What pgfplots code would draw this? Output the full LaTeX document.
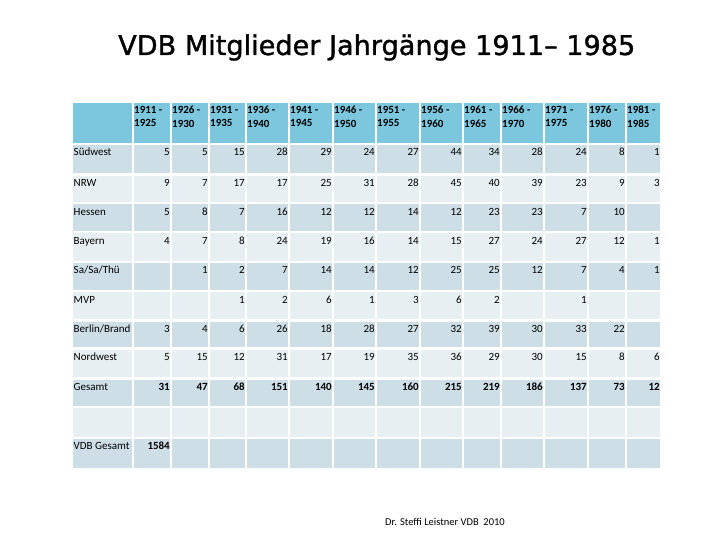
\documentclass[border=0pt]{standalone}
\usepackage{fontspec}
\setmainfont{Carlito}
\newfontfamily\titlefont[FakeBold=1.2]{DejaVu Sans}
\usepackage{graphicx}
\usepackage{pgfplots}
\pgfplotsset{compat=1.18}
\usepackage{pgfplotstable}
\definecolor{hdr}{RGB}{124,199,222}
\definecolor{dark}{RGB}{206,222,231}
\definecolor{light}{RGB}{232,239,243}

% x = right edge of the column (px), v = value; empty cells are left out
% columns: 170=1911-25 208=1926-30 245=1931-35 288=1936-40 332=1941-45 375=1946-50
%          419=1951-55 462=1956-60 500=1961-65 543=1966-70 587=1971-75 625=1976-80 660=1981-85
\pgfplotstableread{
x   v
170 5
208 5
245 15
288 28
332 29
375 24
419 27
462 44
500 34
543 28
587 24
625 8
660 1
}\rowSW
\pgfplotstableread{
x   v
170 9
208 7
245 17
288 17
332 25
375 31
419 28
462 45
500 40
543 39
587 23
625 9
660 3
}\rowNRW
\pgfplotstableread{
x   v
170 5
208 8
245 7
288 16
332 12
375 12
419 14
462 12
500 23
543 23
587 7
625 10
}\rowHES
\pgfplotstableread{
x   v
170 4
208 7
245 8
288 24
332 19
375 16
419 14
462 15
500 27
543 24
587 27
625 12
660 1
}\rowBAY
\pgfplotstableread{
x   v
208 1
245 2
288 7
332 14
375 14
419 12
462 25
500 25
543 12
587 7
625 4
660 1
}\rowSST
\pgfplotstableread{
x   v
245 1
288 2
332 6
375 1
419 3
462 6
500 2
587 1
}\rowMVP
\pgfplotstableread{
x   v
170 3
208 4
245 6
288 26
332 18
375 28
419 27
462 32
500 39
543 30
587 33
625 22
}\rowBER
\pgfplotstableread{
x   v
170 5
208 15
245 12
288 31
332 17
375 19
419 35
462 36
500 29
543 30
587 15
625 8
660 6
}\rowNW
\pgfplotstableread{
x   v
170 31
208 47
245 68
288 151
332 140
375 145
419 160
462 215
500 219
543 186
587 137
625 73
660 12
}\rowGES
\pgfplotstableread{
x   v
170 1584
}\rowVDB

\pgfplotsset{
  cellnums/.style={draw=none, mark=none, nodes near coords,
    point meta=explicit symbolic,
    every node near coord/.append style={anchor=base east, inner sep=0pt,
      font=\fontsize{11bp}{13bp}\selectfont, text=black}},
  boldnums/.style={every node near coord/.append style={font=\fontsize{11bp}{13bp}\selectfont\bfseries}}
}

\begin{document}
\begin{tikzpicture}
\begin{axis}[
  x=1bp, y=1bp,
  xmin=0, xmax=720, ymin=-540, ymax=0,
  axis on top,
  axis line style={draw=none},
  tick style={draw=none},
  clip=false,
  xtick={134,172,210,247,290,334,377,421,464,502,545,589,627},
  xticklabels={{1911 -\\1925},{1926 -\\1930},{1931 -\\1935},{1936 -\\1940},{1941 -\\1945},{1946 -\\1950},{1951 -\\1955},{1956 -\\1960},{1961 -\\1965},{1966 -\\1970},{1971 -\\1975},{1976 -\\1980},{1981 -\\1985}},
  xticklabel pos=upper,
  xticklabel style={anchor=north west, align=left, inner sep=0pt, yshift=-106bp,
    font=\fontsize{11bp}{13.4bp}\selectfont\bfseries},
  ytick={-155.8,-186.5,-215.1,-244.1,-273.8,-303.1,-332.8,-360.8,-390.8,-449.8},
  yticklabels={Südwest,NRW,Hessen,Bayern,Sa/Sa/Thü,MVP,Berlin/Brand,Nordwest,Gesamt,VDB Gesamt},
  yticklabel style={anchor=base west, inner sep=0pt, xshift=73.5bp,
    font=\fontsize{11bp}{13bp}\selectfont},
]
\path (axis cs:0,0) rectangle (axis cs:720,-540);
% table body
\fill[hdr]   (axis cs:73,-103)   rectangle (axis cs:660,-143);
\fill[dark]  (axis cs:73,-145)   rectangle (axis cs:660,-173.3);
\fill[light] (axis cs:73,-175.7) rectangle (axis cs:660,-201.7);
\fill[dark]  (axis cs:73,-204.3) rectangle (axis cs:660,-231);
\fill[light] (axis cs:73,-233.3) rectangle (axis cs:660,-260.7);
\fill[dark]  (axis cs:73,-263)   rectangle (axis cs:660,-290);
\fill[light] (axis cs:73,-292.3) rectangle (axis cs:660,-319);
\fill[dark]  (axis cs:73,-322)   rectangle (axis cs:660,-347.5);
\fill[light] (axis cs:73,-350)   rectangle (axis cs:660,-377.3);
\fill[dark]  (axis cs:73,-380)   rectangle (axis cs:660,-406);
\fill[light] (axis cs:73,-408.3) rectangle (axis cs:660,-437);
\fill[dark]  (axis cs:73,-439)   rectangle (axis cs:660,-468.3);
\draw[white, line width=2bp]
  (axis cs:133,-102) -- (axis cs:133,-469)
  (axis cs:171,-102) -- (axis cs:171,-469)
  (axis cs:209,-102) -- (axis cs:209,-469)
  (axis cs:246,-102) -- (axis cs:246,-469)
  (axis cs:289,-102) -- (axis cs:289,-469)
  (axis cs:333,-102) -- (axis cs:333,-469)
  (axis cs:376,-102) -- (axis cs:376,-469)
  (axis cs:420,-102) -- (axis cs:420,-469)
  (axis cs:463,-102) -- (axis cs:463,-469)
  (axis cs:501,-102) -- (axis cs:501,-469)
  (axis cs:544,-102) -- (axis cs:544,-469)
  (axis cs:588,-102) -- (axis cs:588,-469)
  (axis cs:626,-102) -- (axis cs:626,-469);

\addplot[cellnums] table[x=x, y expr={-155.8}, meta=v] {\rowSW};
\addplot[cellnums] table[x=x, y expr={-186.5}, meta=v] {\rowNRW};
\addplot[cellnums] table[x=x, y expr={-215.1}, meta=v] {\rowHES};
\addplot[cellnums] table[x=x, y expr={-244.1}, meta=v] {\rowBAY};
\addplot[cellnums] table[x=x, y expr={-273.8}, meta=v] {\rowSST};
\addplot[cellnums] table[x=x, y expr={-303.1}, meta=v] {\rowMVP};
\addplot[cellnums] table[x=x, y expr={-332.8}, meta=v] {\rowBER};
\addplot[cellnums] table[x=x, y expr={-360.8}, meta=v] {\rowNW};
\addplot[cellnums, boldnums] table[x=x, y expr={-390.8}, meta=v] {\rowGES};
\addplot[cellnums, boldnums] table[x=x, y expr={-449.8}, meta=v] {\rowVDB};

\node[anchor=base west, inner sep=0pt] at (axis cs:118,-55)
  {\resizebox{517bp}{!}{\titlefont VDB Mitglieder Jahrgänge 1911– 1985}};
\node[anchor=base west, inner sep=0pt, font=\fontsize{10.5bp}{12bp}\selectfont]
  at (axis cs:385,-525.7) {Dr. Steffi Leistner VDB\ \ 2010};
\end{axis}
\end{tikzpicture}
\end{document}
